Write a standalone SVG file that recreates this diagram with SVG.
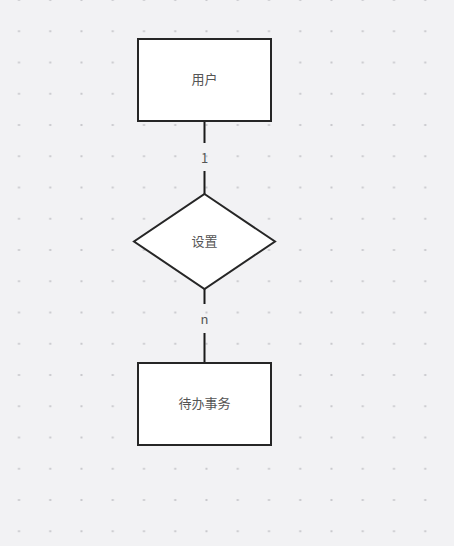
<svg xmlns="http://www.w3.org/2000/svg" width="454" height="546" viewBox="0 0 454 546">
  <defs>
    <pattern id="dots" x="0" y="0" width="31.25" height="31.25" patternUnits="userSpaceOnUse">
      <rect x="18" y="-1" width="2" height="2" fill="#c8c8cc"/>
      <rect x="18" y="30.25" width="2" height="2" fill="#c8c8cc"/>
    </pattern>
    <style>
      .node { fill: #ffffff; stroke: #262626; stroke-width: 2; }
      .edge { stroke: #1a1a1a; stroke-width: 2; fill: none; }
      .label { font-family: "Noto Sans CJK SC", "Liberation Sans", sans-serif; font-size: 13px; fill: #555555; text-anchor: middle; dominant-baseline: central; }
    </style>
  </defs>
  <rect x="0" y="0" width="454" height="546" fill="#f2f2f4"/>
  <rect x="0" y="0" width="454" height="546" fill="url(#dots)"/>
  <g id="connectors">
    <line class="edge" x1="204.5" y1="121" x2="204.5" y2="143"/>
    <line class="edge" x1="204.5" y1="171" x2="204.5" y2="194"/>
    <text class="label" x="204.5" y="157">1</text>
    <line class="edge" x1="204.5" y1="289" x2="204.5" y2="304"/>
    <line class="edge" x1="204.5" y1="333" x2="204.5" y2="363"/>
    <text class="label" x="204.5" y="318">n</text>
  </g>
  <g id="user">
    <rect class="node" x="138" y="39" width="133" height="82"/>
    <text class="label" x="204.5" y="78">用户</text>
  </g>
  <g id="setting">
    <polygon class="node" points="204.5,194 275,241.5 204.5,289 134,241.5"/>
    <text class="label" x="204.5" y="240.5">设置</text>
  </g>
  <g id="todo">
    <rect class="node" x="138" y="363" width="133" height="82"/>
    <text class="label" x="204.5" y="402.5">待办事务</text>
  </g>
</svg>
